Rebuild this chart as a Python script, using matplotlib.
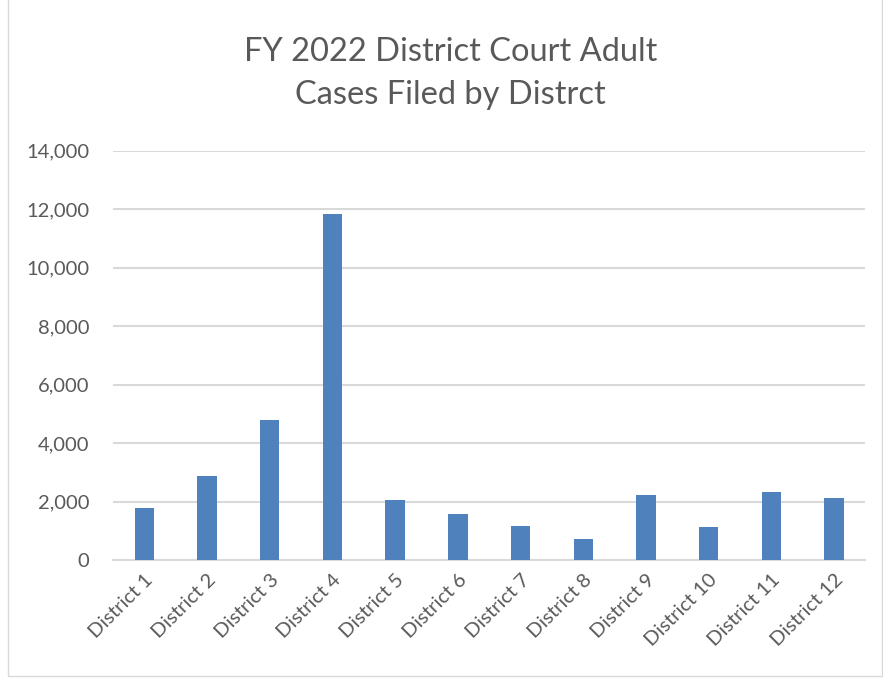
import matplotlib.pyplot as plt
from matplotlib.patches import Rectangle
from matplotlib.ticker import FuncFormatter

districts = ['District 1', 'District 2', 'District 3', 'District 4', 'District 5', 'District 6',
             'District 7', 'District 8', 'District 9', 'District 10', 'District 11', 'District 12']
cases = [1780, 2890, 4790, 11850, 2050, 1575, 1175, 720, 2245, 1140, 2315, 2130]

plt.rcParams['font.family'] = ['Lato', 'DejaVu Sans']

fig = plt.figure(figsize=(8.83, 6.79), dpi=100)
ax = fig.add_axes([0.128, 0.175, 0.852, 0.603])

x = range(len(districts))
ax.bar(x, cases, width=0.31, color='#4f81bd', zorder=3)

ax.set_ylim(0, 14000)
ax.set_xlim(-0.5, len(districts) - 0.5)
ax.set_yticks(range(0, 14001, 2000))
ax.yaxis.set_major_formatter(FuncFormatter(lambda v, p: f'{int(v):,}'))
ax.grid(axis='y', color='#d9d9d9', linewidth=1.5, zorder=0)

for s in ['top', 'right', 'left']:
    ax.spines[s].set_visible(False)
ax.spines['bottom'].set_color('#d9d9d9')
ax.spines['bottom'].set_linewidth(1.5)

ax.set_xticks(list(x))
ax.set_xticklabels(districts, rotation=45, ha='right', rotation_mode='anchor')
ax.tick_params(axis='both', length=0, labelsize=14.5, colors='#595959')
ax.tick_params(axis='y', pad=17)
ax.tick_params(axis='x', pad=8)

fig.text(0.51, 0.892, 'FY 2022 District Court Adult\nCases Filed by Distrct',
         ha='center', va='center', fontsize=23.5, color='#595959', linespacing=1.55)

fig.patches.append(Rectangle((0.009, 0.004), 0.99, 1.2, transform=fig.transFigure,
                             fill=False, edgecolor='#d9d9d9', linewidth=1))

fig.savefig('out.png', dpi=100)
